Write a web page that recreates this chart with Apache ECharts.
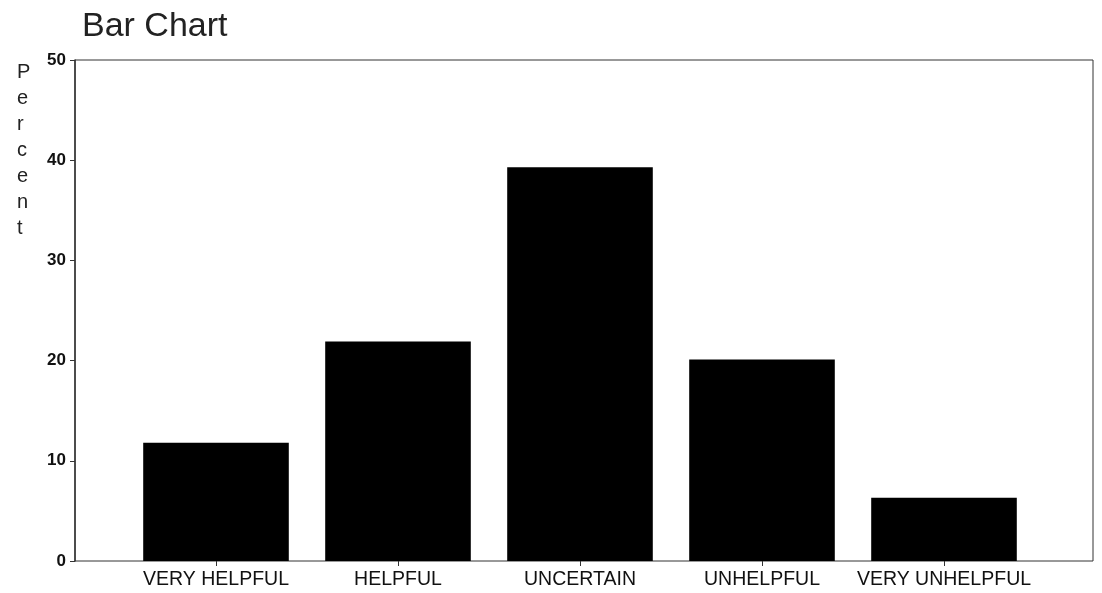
<!DOCTYPE html>
<html>
<head>
<meta charset="utf-8">
<script src="https://cdn.jsdelivr.net/npm/echarts@6/dist/echarts.min.js"></script>
<style>
html,body{margin:0;padding:0;background:#fff;}
#chart{width:1102px;height:593px;}
</style>
</head>
<body>
<div id="chart"></div>
<script>
const categories = ['VERY HELPFUL', 'HELPFUL', 'UNCERTAIN', 'UNHELPFUL', 'VERY UNHELPFUL'];
const percentValues = [11.8, 21.9, 39.3, 20.1, 6.3];
const yTicks = { min: 0, max: 50, interval: 10 };
const titleText = 'Bar Chart';
const yAxisTitle = 'Percent';

const chart = echarts.init(document.getElementById('chart'), null, { renderer: 'canvas' });
const font = '"Liberation Sans", Arial, Helvetica, sans-serif';

chart.setOption({
  backgroundColor: '#fff',
  animation: false,
  title: [
    {
      text: titleText,
      left: 77, top: 5,
      textStyle: { fontFamily: font, fontSize: 34, fontWeight: 'normal', color: '#222' }
    },
    {
      text: yAxisTitle.split('').join('\n'),
      left: 12, top: 54,
      textStyle: { fontFamily: font, fontSize: 20, fontWeight: 'normal', color: '#222', lineHeight: 26, align: 'center' }
    }
  ],
  grid: [
    { left: 75, right: 9, top: 60, bottom: 32, show: true, borderColor: '#333', borderWidth: 1, backgroundColor: 'transparent' },
    { left: 125, right: 67, top: 60, bottom: 32 }
  ],
  xAxis: [
    { gridIndex: 0, type: 'value', min: 0, max: 1, show: false },
    {
      gridIndex: 1, type: 'category', data: categories,
      axisLine: { show: false },
      axisTick: { show: true, alignWithLabel: true, length: 5, lineStyle: { color: '#333' } },
      axisLabel: { interval: 0, fontFamily: font, fontSize: 19.5, color: '#111', margin: 9 },
      splitLine: { show: false }
    }
  ],
  yAxis: [
    {
      gridIndex: 0, type: 'value', min: yTicks.min, max: yTicks.max, interval: yTicks.interval,
      axisLine: { show: true, lineStyle: { color: '#333', width: 1.5 } },
      axisTick: { show: true, length: 5, lineStyle: { color: '#333' } },
      axisLabel: { fontFamily: font, fontSize: 17, fontWeight: 'bold', color: '#111', margin: 9 },
      splitLine: { show: false }
    },
    { gridIndex: 1, type: 'value', min: yTicks.min, max: yTicks.max, show: false, splitLine: { show: false } }
  ],
  series: [
    {
      type: 'bar',
      xAxisIndex: 1, yAxisIndex: 1,
      data: percentValues,
      barCategoryGap: '20%',
      itemStyle: { color: '#000' }
    }
  ]
});
</script>
</body>
</html>
